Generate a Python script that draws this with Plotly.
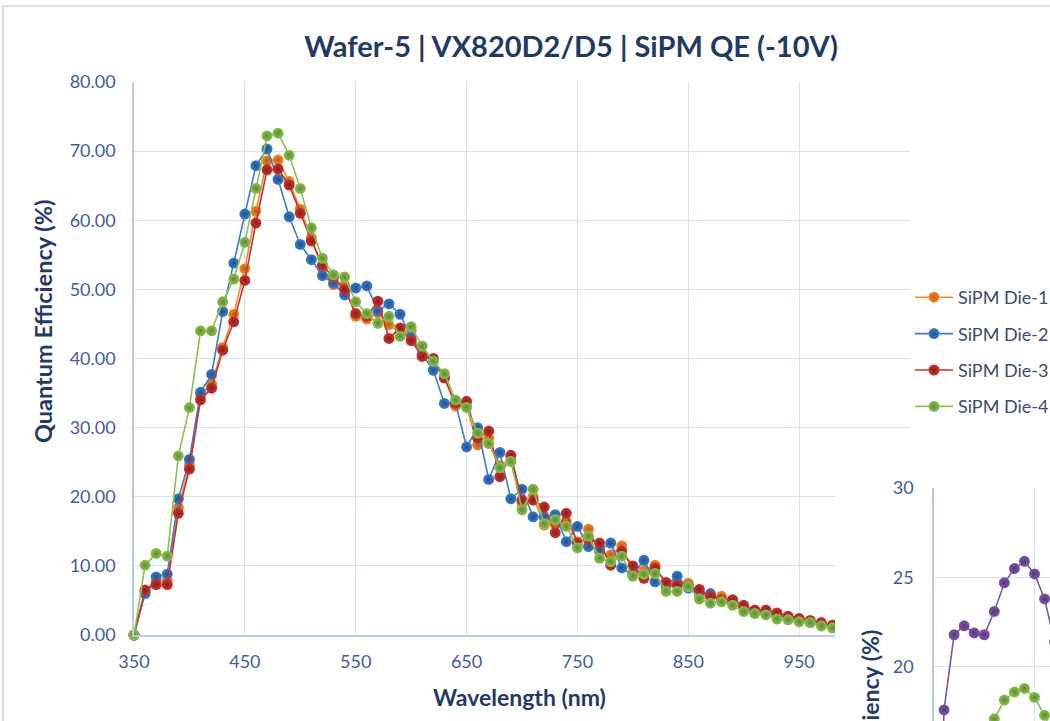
import plotly.graph_objects as go

W, H = 1050, 721

# ---------------- data ----------------
wavelength = list(range(350, 990, 10))

die1 = [0, 6.3, 7.8, 7.9, 18.4, 24.6, 34.8, 36.3, 41.6, 46.4,
        53.0, 61.3, 68.6, 68.7, 65.6, 61.6, 57.5, 53.0, 50.7, 50.6,
        46.1, 45.7, 46.6, 44.9, 43.7, 44.0, 40.4, 39.6, 37.2, 33.1,
        33.1, 27.5, 28.5, 24.5, 25.5, 19.0, 20.0, 15.9, 16.0, 16.4,
        13.5, 15.3, 12.0, 11.6, 12.9, 9.0, 9.3, 10.1, 7.0, 7.5,
        7.5, 5.8, 5.5, 5.6, 4.7, 4.0, 3.4, 3.2, 2.9, 2.5,
        2.2, 1.9, 1.6, 1.2]
die2 = [0, 6.0, 8.4, 8.8, 19.7, 25.4, 35.1, 37.7, 46.8, 53.8,
        60.9, 67.9, 70.3, 65.9, 60.5, 56.5, 54.3, 52.0, 50.9, 49.2,
        50.2, 50.5, 46.9, 47.9, 46.4, 43.0, 40.6, 38.3, 33.5, 33.6,
        27.2, 30.0, 22.5, 26.4, 19.7, 21.1, 17.1, 17.1, 17.4, 13.5,
        15.7, 12.8, 12.3, 13.3, 9.7, 8.7, 10.8, 7.7, 7.2, 8.5,
        6.8, 6.0, 6.0, 5.0, 4.6, 4.0, 3.3, 3.1, 2.8, 2.4,
        2.1, 1.8, 1.5, 1.4]
die3 = [0, 6.5, 7.3, 7.3, 17.6, 24.0, 34.0, 35.7, 41.2, 45.3,
        51.3, 59.6, 67.3, 67.4, 65.1, 61.0, 57.0, 53.5, 51.8, 50.0,
        46.5, 46.1, 48.3, 42.9, 44.4, 42.6, 40.3, 40.0, 37.2, 33.5,
        33.8, 28.5, 29.5, 22.9, 26.0, 19.5, 19.5, 18.5, 14.8, 17.6,
        13.3, 13.8, 13.3, 10.1, 12.1, 10.0, 8.2, 9.7, 7.6, 7.2,
        7.1, 6.6, 5.6, 5.1, 5.1, 4.3, 3.6, 3.6, 3.2, 2.7,
        2.4, 2.1, 1.8, 1.4]
die4 = [0, 10.1, 11.8, 11.4, 25.9, 32.9, 44.0, 44.0, 48.2, 51.5,
        56.8, 64.6, 72.2, 72.6, 69.4, 64.6, 58.9, 54.5, 52.1, 51.8,
        48.2, 46.5, 45.1, 46.1, 43.2, 44.6, 41.8, 39.6, 37.8, 34.0,
        32.9, 29.2, 27.7, 24.2, 25.1, 18.1, 21.1, 16.1, 16.7, 15.7,
        12.6, 14.3, 11.1, 10.6, 11.4, 8.5, 8.8, 8.9, 6.3, 6.3,
        7.0, 5.2, 4.6, 4.8, 4.3, 3.4, 3.1, 2.9, 2.3, 2.2,
        1.9, 1.8, 1.3, 1.0]

series_names = ["SiPM Die-1", "SiPM Die-2", "SiPM Die-3", "SiPM Die-4"]

# inset chart (partly visible second chart)
inset_wl_a = [350, 360, 370, 380, 390, 400, 410, 420, 430, 440, 450, 460, 470]
inset_a = [0, 17.6, 21.8, 22.3, 21.9, 21.8, 23.1, 24.7, 25.5, 25.9, 25.2, 23.8, 21.4]
inset_wl_b = [400, 410, 420, 430, 440, 450, 460, 470]
inset_b = [16.0, 17.1, 18.15, 18.6, 18.8, 18.3, 17.3, 16.0]

title_text = "Wafer-5 | VX820D2/D5 | SiPM QE (-10V)"
y_title = "Quantum Efficiency (%)"
x_title = "Wavelength (nm)"
y_ticks = [0, 10, 20, 30, 40, 50, 60, 70, 80]
x_ticks = [350, 450, 550, 650, 750, 850, 950, 1050]
x_ticklabels = ["350", "450", "550", "650", "750", "850", "950", ""]  # 1050 is hidden by the second chart

# ---------------- style ----------------
colors = ["#F5892A", "#3C7DCB", "#C9342F", "#8CC152"]
dark = ["#B85E10", "#1F4F8F", "#8A1C19", "#5E8A2E"]
purple, purple_dark = "#7E57A6", "#553577"
FONT = "Lato"
TITLE_C = "#1F3A66"
TICK_C = "#3E5E9E"
GRID = "#D5E3F3"
AXLINE = "#B6CBE6"


def px(x):
    return x / W


def py(y):
    return 1 - y / H


fig = go.Figure()

for name, vals, c, d in zip(series_names, [die1, die2, die3, die4], colors, dark):
    fig.add_trace(go.Scatter(
        x=wavelength, y=vals, name=name, mode="lines+markers",
        line=dict(color=c, width=1.6),
        marker=dict(size=11, color=c, gradient=dict(type="radial", color=d),
                    line=dict(width=0)),
        cliponaxis=False, legendgroup=name,
        xaxis="x", yaxis="y"))

# white cover (chart area of the second chart)
fig.add_trace(go.Scatter(x=[], y=[], xaxis="x2", yaxis="y2",
                         showlegend=False, hoverinfo="skip"))

# inset chart traces
fig.add_trace(go.Scatter(
    x=inset_wl_a, y=inset_a, mode="lines+markers", showlegend=False,
    line=dict(color=purple, width=1.6),
    marker=dict(size=11, color=purple, gradient=dict(type="radial", color=purple_dark)),
    xaxis="x3", yaxis="y3"))
fig.add_trace(go.Scatter(
    x=inset_wl_b, y=inset_b, mode="lines+markers", showlegend=False,
    line=dict(color=colors[3], width=1.6),
    marker=dict(size=11, color=colors[3], gradient=dict(type="radial", color=dark[3])),
    xaxis="x3", yaxis="y3"))

tickfont = dict(family=FONT, size=18, color=TICK_C)

fig.update_layout(
    width=W, height=H,
    margin=dict(l=0, r=0, t=0, b=0, autoexpand=False),
    paper_bgcolor="white", plot_bgcolor="white",
    title=dict(text=f"<b>{title_text}</b>", x=px(571), xanchor="center",
               y=py(47), yanchor="middle", automargin=False,
               font=dict(family=FONT, size=29, color=TITLE_C)),
    xaxis=dict(domain=[px(134), px(910)], range=[350, 1050], tickvals=x_ticks,
               ticktext=x_ticklabels,
               showgrid=True, gridcolor=GRID, gridwidth=1.3, zeroline=False,
               showline=True, linecolor=AXLINE, linewidth=1.5, automargin=False,
               tickfont=tickfont, ticklabelstandoff=10, anchor="y"),
    yaxis=dict(domain=[py(635), py(82)], range=[0, 80], tickvals=y_ticks,
               tickformat=".2f", showgrid=True, gridcolor=GRID, gridwidth=1.3,
               zeroline=False, showline=True, linecolor=AXLINE, linewidth=1.5,
               automargin=False,
               tickfont=tickfont, ticklabelstandoff=13, anchor="x"),
    xaxis2=dict(domain=[px(835), 1], visible=False, anchor="y2", automargin=False),
    yaxis2=dict(domain=[0, py(435)], visible=False, anchor="x2", automargin=False),
    xaxis3=dict(domain=[px(934), 1], range=[350, 465.4], tickvals=[350, 450],
                showgrid=True, gridcolor=GRID, gridwidth=1.3, zeroline=False,
                showticklabels=False, showline=False, anchor="y3", automargin=False),
    yaxis3=dict(domain=[0, py(488)], range=[16.98, 30], tickvals=[20, 25, 30],
                showgrid=True, gridcolor=GRID, gridwidth=1.3, zeroline=False,
                showline=True, linecolor=AXLINE, linewidth=1.5, automargin=False,
                tickfont=tickfont, ticklabelstandoff=15, anchor="x3"),
    legend=dict(x=px(910), y=py(279), xanchor="left", yanchor="top",
                bgcolor="rgba(0,0,0,0)", tracegroupgap=10, itemwidth=38,
                font=dict(family=FONT, size=18, color="#3B4B6B")),
    showlegend=True,
)

fig.add_annotation(text=f"<b>{y_title}</b>", textangle=-90, xref="paper", yref="paper",
                   x=px(43), y=py(322), xanchor="center", yanchor="middle",
                   showarrow=False, font=dict(family=FONT, size=23.5, color=TITLE_C))
fig.add_annotation(text=f"<b>{x_title}</b>", xref="paper", yref="paper",
                   x=px(519), y=py(697), xanchor="center", yanchor="middle",
                   showarrow=False, font=dict(family=FONT, size=23, color=TITLE_C))
fig.add_annotation(text=f"<b>{y_title}</b>", textangle=-90, xref="paper", yref="paper",
                   x=px(870), y=py(628), xanchor="center", yanchor="top",
                   showarrow=False, font=dict(family=FONT, size=23, color=TITLE_C))

# outer border of the main chart area (top and left edges visible)
fig.add_shape(type="path", xref="paper", yref="paper",
              path=f"M {px(3)} {py(730)} L {px(3)} {py(6)} L {px(1060)} {py(6)}",
              line=dict(color="#CCD5E2", width=1.5), layer="above")

# the page's default body margin would shift the figure; remove it
fig.write_html("out.html", config={"displayModeBar": False},
               post_script="document.body.style.margin='0px';")
